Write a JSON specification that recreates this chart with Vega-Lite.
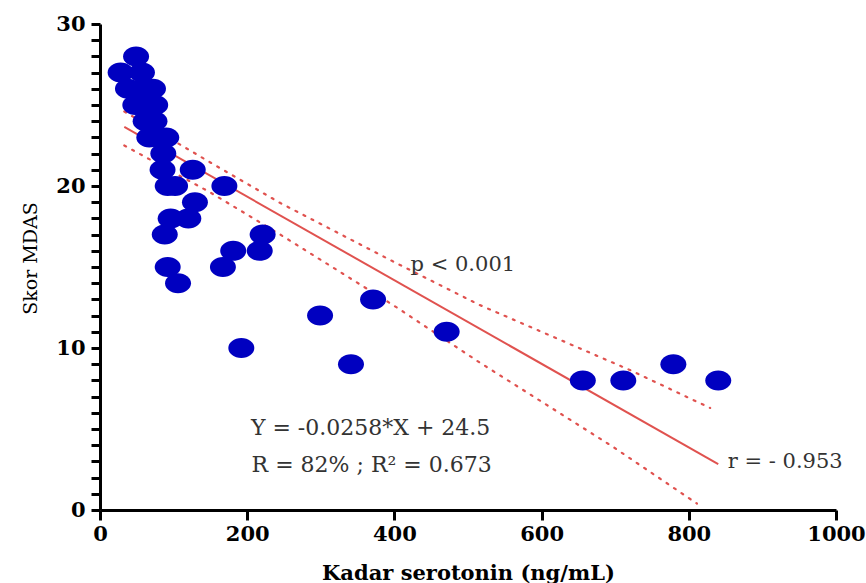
{
  "$schema": "https://vega.github.io/schema/vega-lite/v6.json",
  "width": 736,
  "height": 486,
  "autosize": "none",
  "padding": {"left": 100, "top": 24, "right": 30, "bottom": 73},
  "background": "white",
  "config": {
    "view": {"stroke": null},
    "axis": {
      "grid": false,
      "domainColor": "black",
      "domainWidth": 3,
      "tickColor": "black",
      "tickWidth": 3,
      "labelFont": "DejaVu Serif",
      "labelFontWeight": "bold",
      "labelFontSize": 21,
      "labelColor": "black",
      "labelOverlap": false,
      "labelFlush": false,
      "titleColor": "black",
      "titleFont": "DejaVu Serif"
    }
  },
  "datasets": {
    "points": [
      {"serotonin": 49, "mdas": 28},
      {"serotonin": 28, "mdas": 27},
      {"serotonin": 57, "mdas": 27},
      {"serotonin": 38, "mdas": 26},
      {"serotonin": 60, "mdas": 26},
      {"serotonin": 72, "mdas": 26},
      {"serotonin": 48, "mdas": 25},
      {"serotonin": 58, "mdas": 25},
      {"serotonin": 75, "mdas": 25},
      {"serotonin": 62, "mdas": 24},
      {"serotonin": 74, "mdas": 24},
      {"serotonin": 67, "mdas": 23},
      {"serotonin": 80, "mdas": 23},
      {"serotonin": 90, "mdas": 23},
      {"serotonin": 86, "mdas": 22},
      {"serotonin": 85, "mdas": 21},
      {"serotonin": 126, "mdas": 21},
      {"serotonin": 92, "mdas": 20},
      {"serotonin": 102, "mdas": 20},
      {"serotonin": 169, "mdas": 20},
      {"serotonin": 129, "mdas": 19},
      {"serotonin": 96, "mdas": 18},
      {"serotonin": 120, "mdas": 18},
      {"serotonin": 88, "mdas": 17},
      {"serotonin": 221, "mdas": 17},
      {"serotonin": 181, "mdas": 16},
      {"serotonin": 217, "mdas": 16},
      {"serotonin": 92, "mdas": 15},
      {"serotonin": 167, "mdas": 15},
      {"serotonin": 106, "mdas": 14},
      {"serotonin": 371, "mdas": 13},
      {"serotonin": 299, "mdas": 12},
      {"serotonin": 471, "mdas": 11},
      {"serotonin": 192, "mdas": 10},
      {"serotonin": 341, "mdas": 9},
      {"serotonin": 779, "mdas": 9},
      {"serotonin": 656, "mdas": 8},
      {"serotonin": 711, "mdas": 8},
      {"serotonin": 840, "mdas": 8}
    ],
    "fit": [
      {"serotonin": 33, "mdas": 23.65, "kind": "fit"},
      {"serotonin": 840, "mdas": 2.83, "kind": "fit"},
      {"serotonin": 33, "mdas": 24.6, "kind": "upper"},
      {"serotonin": 150, "mdas": 21.45, "kind": "upper"},
      {"serotonin": 245, "mdas": 18.95, "kind": "upper"},
      {"serotonin": 400, "mdas": 15.3, "kind": "upper"},
      {"serotonin": 516, "mdas": 12.65, "kind": "upper"},
      {"serotonin": 720, "mdas": 8.64, "kind": "upper"},
      {"serotonin": 829, "mdas": 6.3, "kind": "upper"},
      {"serotonin": 33, "mdas": 22.5, "kind": "lower"},
      {"serotonin": 150, "mdas": 19.6, "kind": "lower"},
      {"serotonin": 245, "mdas": 17.0, "kind": "lower"},
      {"serotonin": 400, "mdas": 12.6, "kind": "lower"},
      {"serotonin": 516, "mdas": 9.1, "kind": "lower"},
      {"serotonin": 697, "mdas": 3.9, "kind": "lower"},
      {"serotonin": 811, "mdas": 0.4, "kind": "lower"}
    ]
  },
  "layer": [
    {
      "data": {"name": "fit"},
      "transform": [{"filter": "datum.kind === 'fit'"}],
      "mark": {"type": "line", "color": "#E0524F", "strokeWidth": 2},
      "encoding": {
        "x": {"field": "serotonin", "type": "quantitative", "scale": {"domain": [0, 1000], "nice": false},
          "axis": {"values": [0, 200, 400, 600, 800, 1000], "tickCount": 6, "format": "d", "tickSize": 10, "labelPadding": 3,
            "title": "Kadar serotonin (ng/mL)", "titleFontSize": 21, "titleFontWeight": "bold", "titleY": 52, "titleBaseline": "top"}},
        "y": {"field": "mdas", "type": "quantitative", "scale": {"domain": [0, 30], "nice": false},
          "axis": {"values": [0,1,2,3,4,5,6,7,8,9,10,11,12,13,14,15,16,17,18,19,20,21,22,23,24,25,26,27,28,29,30],
            "tickCount": 40,
            "format": "d",
            "labelExpr": "datum.value % 10 === 0 ? datum.label : ''",
            "tickSize": 9,
            "labelPadding": 6,
            "title": "Skor MDAS", "titleFontSize": 19, "titleFontWeight": "normal", "titleX": -60, "titleY": 234}}
      }
    },
    {
      "data": {"name": "fit"},
      "transform": [{"filter": "datum.kind !== 'fit'"}],
      "mark": {"type": "line", "color": "#E0524F", "strokeWidth": 2.2, "strokeDash": [2, 7], "strokeCap": "round"},
      "encoding": {
        "x": {"field": "serotonin", "type": "quantitative"},
        "y": {"field": "mdas", "type": "quantitative"},
        "detail": {"field": "kind"}
      }
    },
    {
      "data": {"name": "points"},
      "mark": {"type": "point", "filled": true, "opacity": 1, "color": "#0000C0", "size": 676,
        "shape": "M -1 0 A 1 0.77 0 1 0 1 0 A 1 0.77 0 1 0 -1 0 Z"},
      "encoding": {
        "x": {"field": "serotonin", "type": "quantitative"},
        "y": {"field": "mdas", "type": "quantitative"}
      }
    },
    {
      "data": {"values": [{}]},
      "mark": {"type": "text", "align": "left", "baseline": "middle", "font": "DejaVu Serif", "fontSize": 21, "color": "#333333"},
      "encoding": {"x": {"datum": 422}, "y": {"datum": 15.1}, "text": {"value": "p < 0.001"}}
    },
    {
      "data": {"values": [{}]},
      "mark": {"type": "text", "align": "left", "baseline": "middle", "font": "DejaVu Serif", "fontSize": 22, "color": "#333333"},
      "encoding": {"x": {"datum": 205}, "y": {"datum": 5.06}, "text": {"value": "Y = -0.0258*X + 24.5"}}
    },
    {
      "data": {"values": [{}]},
      "mark": {"type": "text", "align": "left", "baseline": "middle", "font": "DejaVu Serif", "fontSize": 22, "color": "#333333"},
      "encoding": {"x": {"datum": 206}, "y": {"datum": 2.78}, "text": {"value": "R = 82% ; R² = 0.673"}}
    },
    {
      "data": {"values": [{}]},
      "mark": {"type": "text", "align": "left", "baseline": "middle", "font": "DejaVu Serif", "fontSize": 21, "color": "#333333"},
      "encoding": {"x": {"datum": 853}, "y": {"datum": 2.96}, "text": {"value": "r = - 0.953"}}
    }
  ]
}
